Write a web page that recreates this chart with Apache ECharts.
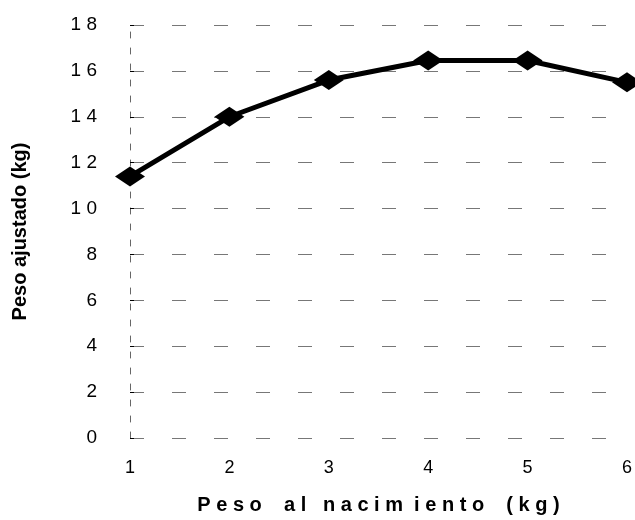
<!DOCTYPE html>
<html><head><meta charset="utf-8">
<script src="https://cdn.jsdelivr.net/npm/echarts@6/dist/echarts.min.js"></script>
<style>html,body{margin:0;padding:0;background:#fff}#c{width:635px;height:520px}</style>
</head><body><div id="c"></div>
<script>
var categories = ['1','2','3','4','5','6'];
var pesoAjustado = [11.4, 14.0, 15.6, 16.45, 16.45, 15.5];
var yTicks = [0, 2, 4, 6, 8, 10, 12, 14, 16, 18];
var xTitle = 'P e s o    a l   n a c i m  i e n t o    ( k g )';
var yTitle = 'Peso ajustado (kg)';

var chart = echarts.init(document.getElementById('c'));
chart.setOption({
  backgroundColor: '#fff',
  animation: false,
  grid: {left: 130, right: 8, top: 25, bottom: 78},
  xAxis: {
    type: 'category', data: categories, boundaryGap: false,
    name: xTitle, nameLocation: 'middle', nameGap: 57,
    nameTextStyle: {fontFamily: 'Liberation Sans', fontWeight: 'bold', fontSize: 20, color: '#000'},
    axisLine: {show: false}, axisTick: {show: false},
    axisLabel: {margin: 21, fontFamily: 'Liberation Sans', fontSize: 18, color: '#000'},
    splitLine: {show: false}
  },
  yAxis: {
    type: 'value', min: yTicks[0], max: yTicks[yTicks.length - 1], interval: 2,
    name: yTitle, nameLocation: 'middle', nameGap: 100, nameRotate: 90,
    nameTextStyle: {fontFamily: 'Liberation Sans', fontWeight: 'bold', fontSize: 20, color: '#000'},
    axisLine: {show: true, lineStyle: {color: '#666', type: [6, 10], width: 1}},
    axisTick: {show: true, length: 4, inside: true, lineStyle: {color: '#000'}},
    axisLabel: {margin: 33, fontFamily: 'Liberation Sans', fontSize: 19, color: '#000',
      formatter: function (v) { return String(v).split('').join(' '); }},
    splitLine: {show: true, lineStyle: {color: '#777', type: [14, 28], width: 1}}
  },
  series: [{
    type: 'line', data: pesoAjustado,
    lineStyle: {color: '#000', width: 5},
    symbol: 'diamond', symbolSize: [30, 20],
    itemStyle: {color: '#000'}
  }]
});
</script></body></html>
